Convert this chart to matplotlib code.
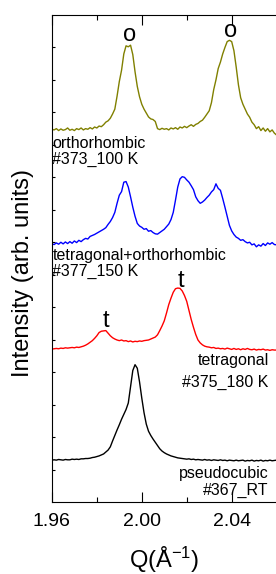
import matplotlib
matplotlib.use('Agg')
import matplotlib.pyplot as plt
from matplotlib.ticker import MultipleLocator

plt.rcParams['font.family'] = ['Liberation Sans', 'DejaVu Sans']
plt.rcParams['mathtext.fontset'] = 'custom'
plt.rcParams['mathtext.rm'] = 'Liberation Sans'
plt.rcParams['mathtext.it'] = 'Liberation Sans'

# scattering vector Q (1/Angstrom)
q = [1.960, 1.961, 1.962, 1.963, 1.964, 1.965, 1.966, 1.967, 1.968, 1.969,
     1.970, 1.971, 1.972, 1.973, 1.974, 1.975, 1.976, 1.977, 1.978, 1.979,
     1.980, 1.981, 1.982, 1.983, 1.984, 1.985, 1.986, 1.987, 1.988, 1.989,
     1.990, 1.991, 1.992, 1.993, 1.994, 1.995, 1.996, 1.997, 1.998, 1.999,
     2.000, 2.001, 2.002, 2.003, 2.004, 2.005, 2.006, 2.007, 2.008, 2.009,
     2.010, 2.011, 2.012, 2.013, 2.014, 2.015, 2.016, 2.017, 2.018, 2.019,
     2.020, 2.021, 2.022, 2.023, 2.024, 2.025, 2.026, 2.027, 2.028, 2.029,
     2.030, 2.031, 2.032, 2.033, 2.034, 2.035, 2.036, 2.037, 2.038, 2.039,
     2.040, 2.041, 2.042, 2.043, 2.044, 2.045, 2.046, 2.047, 2.048, 2.049,
     2.050, 2.051, 2.052, 2.053, 2.054, 2.055, 2.056, 2.057, 2.058, 2.059,
     2.060]

# orthorhombic #373, 100 K (offset)
orth_100k = [11.48, 11.46, 11.50, 11.44, 11.49, 11.45, 11.47, 11.52, 11.45, 11.48,
             11.44, 11.50, 11.47, 11.52, 11.46, 11.50, 11.48, 11.53, 11.49, 11.55,
             11.52, 11.58, 11.56, 11.62, 11.70, 11.74, 11.82, 11.95, 12.10, 12.50,
             12.95, 13.30, 13.80, 14.05, 14.02, 14.07, 13.78, 13.25, 12.80, 12.48,
             12.25, 12.10, 11.98, 11.86, 11.80, 11.78, 11.72, 11.50, 11.47, 11.51,
             11.48, 11.50, 11.46, 11.52, 11.49, 11.53, 11.48, 11.55, 11.52, 11.57,
             11.53, 11.58, 11.62, 11.57, 11.63, 11.66, 11.72, 11.76, 11.85, 11.95,
             12.05, 12.30, 12.70, 13.00, 13.35, 13.55, 13.80, 14.00, 14.18, 14.22,
             14.18, 13.90, 13.40, 12.85, 12.45, 12.25, 12.10, 11.95, 11.85, 11.70,
             11.62, 11.50, 11.56, 11.44, 11.52, 11.42, 11.50, 11.40, 11.46, 11.36,
             11.30]

# tetragonal+orthorhombic #377, 150 K
mixed_150k = [7.95, 7.93, 7.98, 7.94, 8.00, 7.95, 8.01, 7.96, 8.02, 7.97,
              8.04, 7.99, 8.06, 8.02, 8.08, 8.12, 8.10, 8.18, 8.21, 8.24,
              8.28, 8.32, 8.36, 8.40, 8.45, 8.55, 8.64, 8.76, 8.92, 9.20,
              9.45, 9.56, 9.85, 9.87, 9.70, 9.40, 9.08, 8.80, 8.58, 8.50,
              8.46, 8.40, 8.42, 8.34, 8.36, 8.30, 8.26, 8.25, 8.30, 8.35,
              8.40, 8.48, 8.56, 8.70, 8.92, 9.30, 9.70, 9.95, 10.02, 10.00,
              9.92, 9.85, 9.74, 9.62, 9.40, 9.28, 9.20, 9.24, 9.30, 9.38,
              9.45, 9.55, 9.62, 9.80, 9.66, 9.60, 9.35, 9.08, 8.80, 8.52,
              8.35, 8.24, 8.16, 8.12, 8.06, 8.08, 8.02, 7.98, 8.00, 7.92,
              7.95, 7.86, 7.92, 7.88, 7.96, 7.90, 7.98, 7.94, 7.99, 7.93,
              7.92]

# tetragonal #375, 180 K
tetra_180k = [4.71, 4.72, 4.73, 4.72, 4.74, 4.73, 4.75, 4.74, 4.75, 4.76,
              4.75, 4.77, 4.76, 4.78, 4.80, 4.83, 4.87, 4.92, 4.97, 5.04,
              5.12, 5.22, 5.26, 5.27, 5.28, 5.20, 5.12, 5.06, 5.02, 4.99,
              4.97, 4.99, 4.96, 4.97, 4.94, 4.96, 4.93, 4.95, 4.94, 4.96,
              4.95, 4.97, 4.98, 4.99, 5.02, 5.05, 5.08, 5.15, 5.28, 5.42,
              5.58, 5.82, 6.08, 6.28, 6.46, 6.57, 6.59, 6.58, 6.50, 6.36,
              6.18, 5.90, 5.62, 5.38, 5.16, 4.99, 4.90, 4.84, 4.80, 4.78,
              4.77, 4.75, 4.76, 4.73, 4.74, 4.72, 4.73, 4.71, 4.74, 4.72,
              4.70, 4.73, 4.70, 4.72, 4.69, 4.72, 4.70, 4.73, 4.70, 4.69,
              4.71, 4.68, 4.70, 4.69, 4.71, 4.68, 4.69, 4.67, 4.69, 4.68,
              4.68]

# pseudocubic #367, room temperature
cubic_rt = [1.29, 1.30, 1.29, 1.31, 1.30, 1.29, 1.31, 1.30, 1.30, 1.32,
            1.31, 1.32, 1.31, 1.33, 1.33, 1.34, 1.34, 1.35, 1.37, 1.38,
            1.40, 1.42, 1.45, 1.48, 1.54, 1.60, 1.70, 1.88, 2.05, 2.22,
            2.38, 2.55, 2.70, 2.85, 3.05, 3.55, 4.05, 4.23, 4.12, 3.70,
            3.20, 2.75, 2.40, 2.18, 2.05, 1.94, 1.84, 1.74, 1.64, 1.57,
            1.52, 1.48, 1.45, 1.42, 1.40, 1.38, 1.36, 1.35, 1.34, 1.33,
            1.32, 1.33, 1.31, 1.32, 1.30, 1.31, 1.30, 1.29, 1.31, 1.29,
            1.30, 1.28, 1.30, 1.29, 1.28, 1.30, 1.28, 1.29, 1.27, 1.29,
            1.28, 1.27, 1.29, 1.27, 1.28, 1.29, 1.26, 1.28, 1.27, 1.29,
            1.26, 1.28, 1.27, 1.29, 1.26, 1.28, 1.27, 1.29, 1.27, 1.28,
            1.29]

fig = plt.figure(figsize=(2.76, 5.74), dpi=100)
ax = fig.add_axes([0.188, 0.1254, 0.855, 0.8485])

ax.plot(q, orth_100k, color='#808000', lw=1.0)
ax.plot(q, mixed_150k, color='#0000ff', lw=1.0)
ax.plot(q, tetra_180k, color='#ff0000', lw=1.0)
ax.plot(q, cubic_rt, color='black', lw=1.0)

ax.set_xlim(1.96, 2.065)
ax.set_ylim(0, 15)
ax.xaxis.set_minor_locator(MultipleLocator(0.02))
ax.set_xticks([1.96, 2.00, 2.04])
ax.set_xticklabels(['1.96', '2.00', '2.04'])
ax.set_yticks(range(1, 15))
ax.set_yticklabels([])
ax.tick_params(axis='x', which='major', direction='in', length=7, width=0.8,
               top=True, labelsize=14, pad=8)
ax.tick_params(axis='x', which='minor', direction='in', length=3.6, width=0.8, top=True)
ax.tick_params(axis='y', which='major', direction='in', length=2.2, width=0.8)
for s in ax.spines.values():
    s.set_linewidth(0.8)

# peak markers
ax.text(1.9947, 14.2, 'o', fontsize=17, ha='center', va='baseline')
ax.text(2.0396, 14.32, 'o', fontsize=17, ha='center', va='baseline')
ax.text(1.984, 5.39, 't', fontsize=17, ha='center', va='baseline')
ax.text(2.0176, 6.62, 't', fontsize=17, ha='center', va='baseline')

# sample labels
ax.text(1.9602, 10.9, 'orthorhombic', fontsize=11.5, ha='left', va='baseline')
ax.text(1.9602, 10.41, '#373_100 K', fontsize=11.5, ha='left', va='baseline')
ax.text(1.9602, 7.45, 'tetragonal+orthorhombic', fontsize=11.5, ha='left', va='baseline')
ax.text(1.9602, 6.96, '#377_150 K', fontsize=11.5, ha='left', va='baseline')
ax.text(2.0564, 4.22, 'tetragonal', fontsize=11.5, ha='right', va='baseline')
ax.text(2.0564, 3.54, '#375_180 K', fontsize=11.5, ha='right', va='baseline')
ax.text(2.0564, 0.74, 'pseudocubic', fontsize=11.5, ha='right', va='baseline')
ax.text(2.0564, 0.22, '#367_RT', fontsize=11.5, ha='right', va='baseline')

fig.text(0.594, 0.0105, r'Q($\mathregular{\AA^{-1}}$)', fontsize=17, ha='center', va='baseline')
fig.text(0.085, 0.525, 'Intensity (arb. units)', fontsize=17, rotation=90,
         ha='center', va='center')

fig.savefig('out.png', dpi=100)
